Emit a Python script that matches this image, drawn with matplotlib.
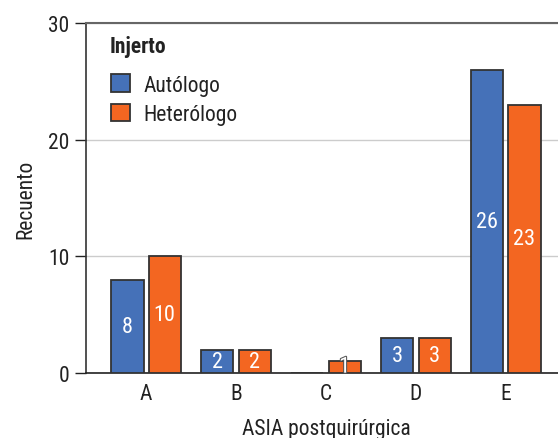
import numpy as np
import matplotlib
matplotlib.use("Agg")
import matplotlib.pyplot as plt
import matplotlib.patheffects as pe

plt.rcParams['font.family'] = ['Roboto Condensed', 'Archivo Narrow', 'DejaVu Sans']

categories = ['A', 'B', 'C', 'D', 'E']
autologo = [8, 2, 0, 3, 26]
heterologo = [10, 2, 1, 3, 23]
series_names = ['Autólogo', 'Heterólogo']
colors = ['#4571B8', '#F36621']

fig = plt.figure(figsize=(5.58, 4.39), dpi=100)
W, H = 558, 439
# axes: left spine x=86, bottom y=374, top y=24, right past the figure edge
ax = fig.add_axes([86 / W, (H - 374) / H, (566 - 86) / W, 350 / H])

x = np.arange(len(categories))
width = 0.356
offset = 0.206
for vals, off, col, name in [(autologo, -offset, colors[0], series_names[0]),
                             (heterologo, offset, colors[1], series_names[1])]:
    bars = ax.bar(x + off, vals, width, color=col, edgecolor='#333333',
                  linewidth=1.3, label=name, zorder=3)
    for b, v in zip(bars, vals):
        if v == 0:
            continue
        t = ax.text(b.get_x() + b.get_width() / 2, v / 2, str(v), ha='center',
                    va='center', color='white', fontsize=16, zorder=4)
        if v < 2:
            t.set_path_effects([pe.withStroke(linewidth=1.5, foreground='#555555')])

ax.set_xlim(-0.667, 4.667)
ax.set_ylim(0, 30)
ax.set_yticks([0, 10, 20, 30])
ax.set_xticks(x)
ax.set_xticklabels(categories)
ax.tick_params(axis='x', length=0, pad=7, labelsize=15.5, colors='#222222')
ax.tick_params(axis='y', length=8, width=1, pad=4, labelsize=15.5, colors='#222222')
ax.yaxis.grid(True, color='#cccccc', linewidth=1, zorder=0)
ax.set_axisbelow(True)

ax.spines['right'].set_visible(False)
ax.spines['top'].set_color('#666666')
ax.spines['top'].set_linewidth(1.5)
ax.spines['left'].set_color('#333333')
ax.spines['bottom'].set_color('#222222')
ax.spines['left'].set_linewidth(1.2)
ax.spines['bottom'].set_linewidth(1.2)

ax.set_ylabel('Recuento', fontsize=15.5, color='#222222', labelpad=8)
ax.set_xlabel('ASIA postquirúrgica', fontsize=15.5, color='#222222', labelpad=10)

# legend title drawn separately so its gap matches the reference
ax.text(0.05, 0.934, 'Injerto', transform=ax.transAxes, fontsize=15.5,
        fontweight='bold', color='#222222', ha='left', va='center')
leg = ax.legend(loc='upper left', bbox_to_anchor=(0.052, 0.853),
                frameon=False, fontsize=15.5, borderpad=0, borderaxespad=0,
                handlelength=0.9, handleheight=0.9, handletextpad=0.6,
                labelspacing=0.36)
for t in leg.get_texts():
    t.set_color('#222222')

fig.savefig('out.png', dpi=100)
